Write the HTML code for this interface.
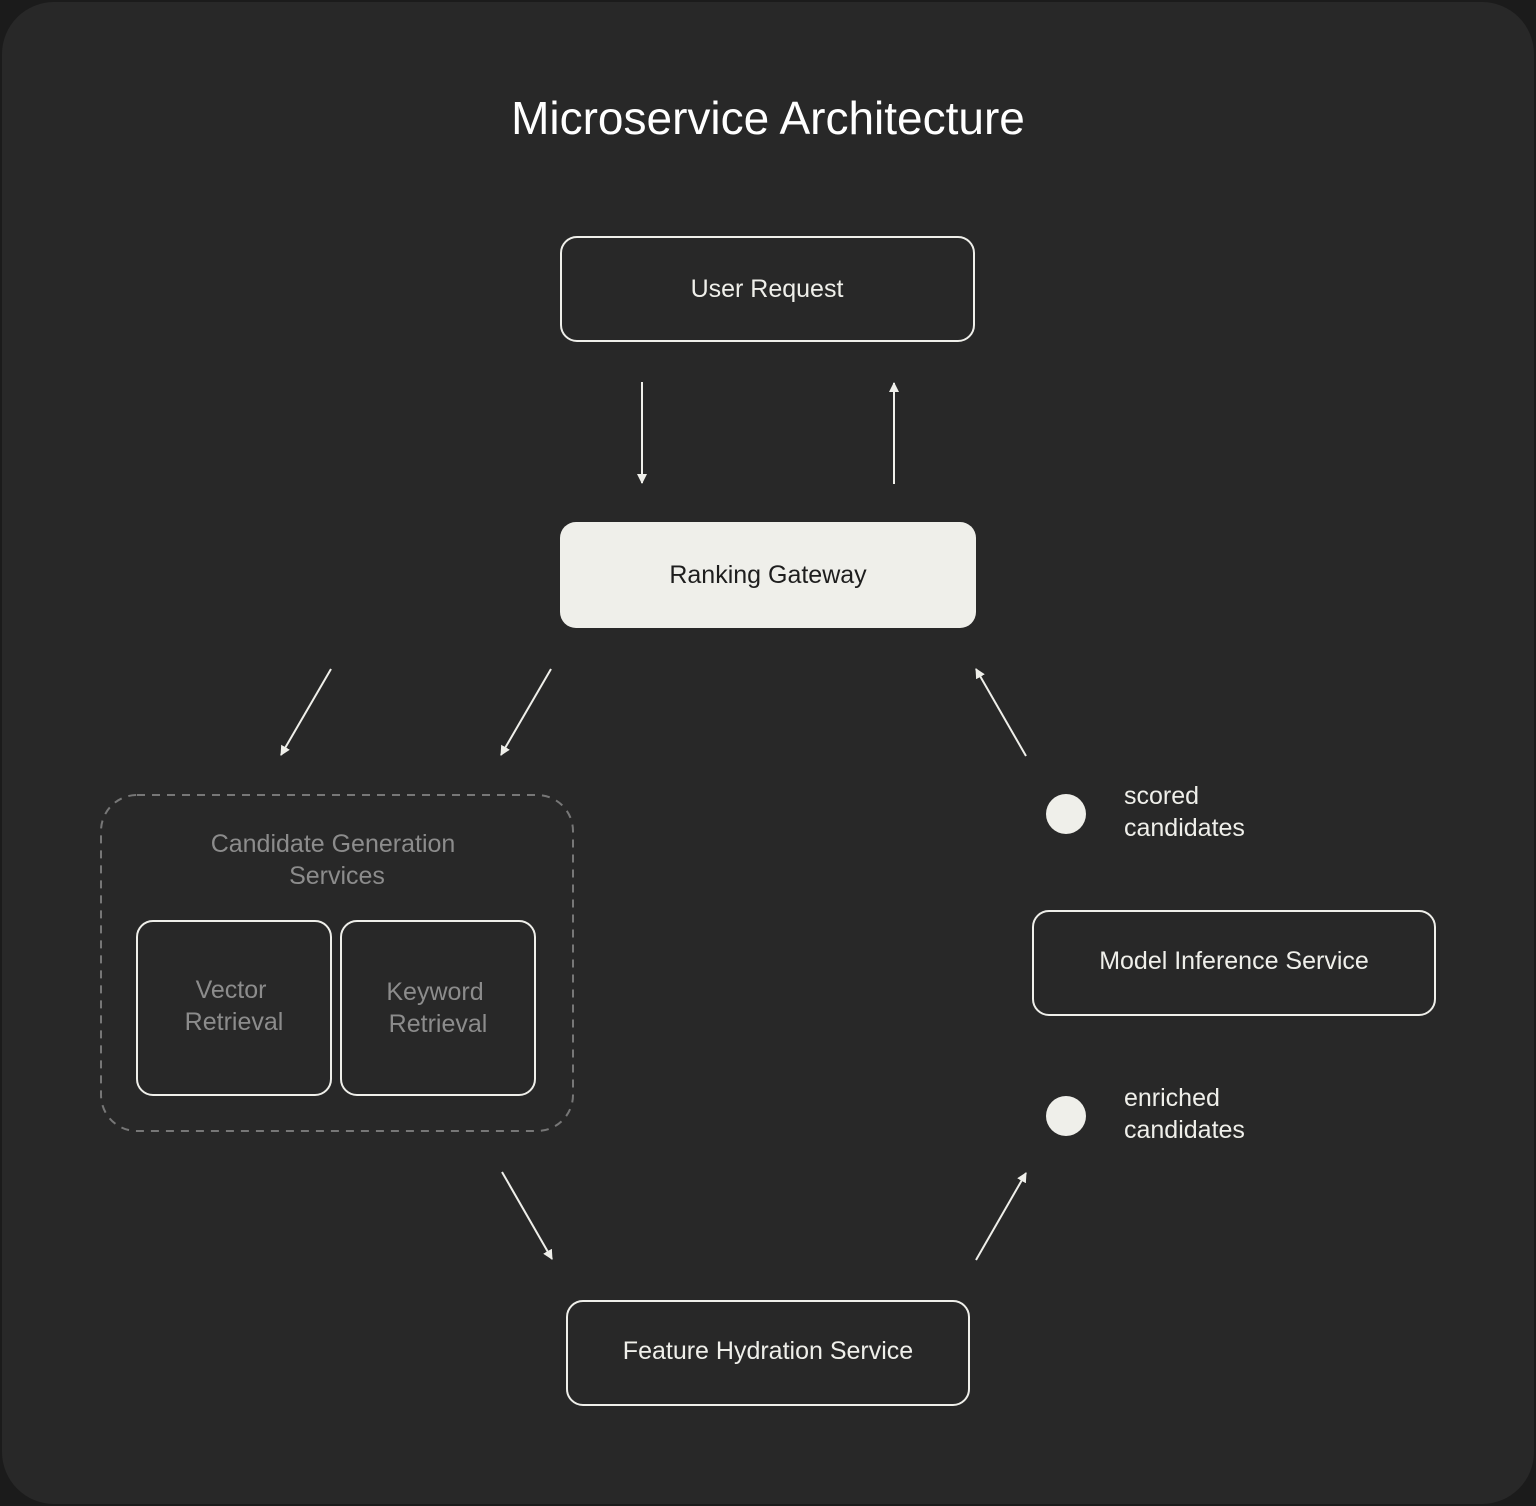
<!DOCTYPE html>
<html><head><meta charset="utf-8"><style>
html,body{margin:0;padding:0;background:#1b1b1b;}
svg{display:block;font-family:"Liberation Sans",sans-serif;}
</style></head><body>
<svg width="1536" height="1506" viewBox="0 0 1536 1506" xmlns="http://www.w3.org/2000/svg">
<defs>
<marker id="a" markerWidth="10" markerHeight="10" refX="9" refY="5" orient="auto" markerUnits="userSpaceOnUse">
<path d="M0,0 L10,5 L0,10 z" fill="#efefea"/>
</marker>
</defs>
<rect x="2" y="2" width="1532" height="1502" rx="52" fill="#282828"/>
<text x="768" y="134" text-anchor="middle" fill="#ffffff" font-size="46">Microservice Architecture</text>

<rect x="561" y="237" width="413" height="104" rx="16" fill="none" stroke="#efefea" stroke-width="2"/>
<text x="767" y="297" text-anchor="middle" fill="#efefea" font-size="25">User Request</text>

<rect x="560" y="522" width="416" height="106" rx="16" fill="#efefea"/>
<text x="768" y="583" text-anchor="middle" fill="#1e1e1e" font-size="25">Ranking Gateway</text>

<line x1="642" y1="382" x2="642" y2="483" stroke="#efefea" stroke-width="2" marker-end="url(#a)"/>
<line x1="894" y1="484" x2="894" y2="383" stroke="#efefea" stroke-width="2" marker-end="url(#a)"/>

<line x1="331" y1="669" x2="281" y2="755" stroke="#efefea" stroke-width="2" marker-end="url(#a)"/>
<line x1="551" y1="669" x2="501" y2="755" stroke="#efefea" stroke-width="2" marker-end="url(#a)"/>
<line x1="1026" y1="756" x2="976" y2="669" stroke="#efefea" stroke-width="2" marker-end="url(#a)"/>
<line x1="502" y1="1172" x2="552" y2="1259" stroke="#efefea" stroke-width="2" marker-end="url(#a)"/>
<line x1="976" y1="1260" x2="1026" y2="1173" stroke="#efefea" stroke-width="2" marker-end="url(#a)"/>

<rect x="101" y="795" width="472" height="336" rx="36" fill="none" stroke="#777" stroke-width="2" stroke-dasharray="8,7"/>
<text x="333" y="852" text-anchor="middle" fill="#8c8c8c" font-size="25">Candidate Generation</text>
<text x="337" y="884" text-anchor="middle" fill="#8c8c8c" font-size="25">Services</text>

<rect x="137" y="921" width="194" height="174" rx="16" fill="none" stroke="#efefea" stroke-width="2"/>
<text x="231" y="998" text-anchor="middle" fill="#8c8c8c" font-size="25">Vector</text>
<text x="234" y="1030" text-anchor="middle" fill="#8c8c8c" font-size="25">Retrieval</text>
<rect x="341" y="921" width="194" height="174" rx="16" fill="none" stroke="#efefea" stroke-width="2"/>
<text x="435" y="1000" text-anchor="middle" fill="#8c8c8c" font-size="25">Keyword</text>
<text x="438" y="1032" text-anchor="middle" fill="#8c8c8c" font-size="25">Retrieval</text>

<circle cx="1066" cy="814" r="20" fill="#efefea"/>
<text x="1124" y="804" fill="#efefea" font-size="25">scored</text>
<text x="1124" y="836" fill="#efefea" font-size="25">candidates</text>

<rect x="1033" y="911" width="402" height="104" rx="16" fill="none" stroke="#efefea" stroke-width="2"/>
<text x="1234" y="969" text-anchor="middle" fill="#efefea" font-size="25">Model Inference Service</text>

<circle cx="1066" cy="1116" r="20" fill="#efefea"/>
<text x="1124" y="1106" fill="#efefea" font-size="25">enriched</text>
<text x="1124" y="1138" fill="#efefea" font-size="25">candidates</text>

<rect x="567" y="1301" width="402" height="104" rx="16" fill="none" stroke="#efefea" stroke-width="2"/>
<text x="768" y="1359" text-anchor="middle" fill="#efefea" font-size="25">Feature Hydration Service</text>
</svg>
</body></html>
